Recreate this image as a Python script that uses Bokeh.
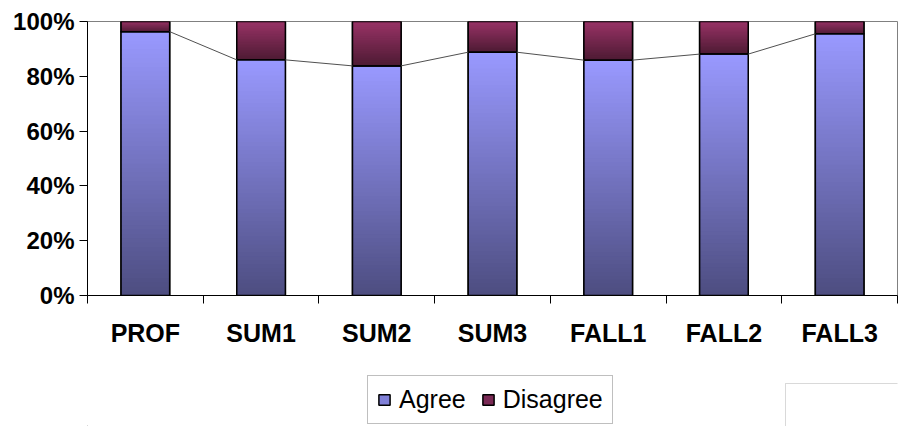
import numpy as np
from bokeh.plotting import figure
from bokeh.layouts import column
from bokeh.models import (ColumnDataSource, FixedTicker, Legend, LegendItem,
                          NumeralTickFormatter, Range1d, BoxAnnotation)
from bokeh.embed import file_html
from bokeh.resources import INLINE

categories = ["PROF", "SUM1", "SUM2", "SUM3", "FALL1", "FALL2", "FALL3"]
agree = [96.3, 86.0, 83.8, 88.8, 85.9, 88.1, 95.5]
disagree = [3.7, 14.0, 16.2, 11.2, 14.1, 11.9, 4.5]
y_ticks = [0, 20, 40, 60, 80, 100]
series_names = ["Agree", "Disagree"]

n = len(categories)
xc = np.arange(n) + 0.5
ag = np.array(agree) / 100.0
dg = np.array(disagree) / 100.0
tot = ag + dg
BW = 0.42
AG_COL = "#8080d8"
DG_COL = "#7a2a55"

p = figure(width=903, height=360, output_backend="svg", toolbar_location=None,
           x_range=Range1d(0, n), y_range=Range1d(0, 1),
           min_border_left=87, min_border_right=6, min_border_top=21,
           min_border_bottom=65)
p.grid.grid_line_color = None
p.outline_line_color = "#808080"
p.outline_line_width = 1
p.background_fill_color = "white"
p.border_fill_color = "white"


def lerp(c1, c2, t):
    a = np.array([int(c1[i:i + 2], 16) for i in (1, 3, 5)], float)
    b = np.array([int(c2[i:i + 2], 16) for i in (1, 3, 5)], float)
    c = a + (b - a) * t
    return "#%02x%02x%02x" % tuple(int(round(v)) for v in c)


src = ColumnDataSource(dict(x=xc, agree=ag, tot=tot, zero=np.zeros(n)))
p.vbar(x="x", width=BW, bottom="zero", top="agree", source=src,
       fill_color=AG_COL, line_color="black", line_width=1.5)
p.vbar(x="x", width=BW, bottom="agree", top="tot", source=src,
       fill_color=DG_COL, line_color="black", line_width=1.5)

# gradient strips (slightly overlapping to avoid seams)
NA, ND = 60, 24
xs, bots, tops, cols = [], [], [], []
for i in range(n):
    for k in range(NA):
        b0 = ag[i] * k / NA
        b1 = ag[i] if k == NA - 1 else ag[i] * (k + 1.6) / NA
        xs.append(xc[i]); bots.append(b0); tops.append(b1)
        cols.append(lerp("#4d4d80", "#9999ff", (k + 0.5) / NA))
    for k in range(ND):
        b0 = ag[i] + dg[i] * k / ND
        b1 = tot[i] if k == ND - 1 else ag[i] + dg[i] * (k + 1.6) / ND
        xs.append(xc[i]); bots.append(b0); tops.append(b1)
        cols.append(lerp("#4d1a33", "#993366", (k + 0.5) / ND))
p.vbar(x=xs, width=BW, bottom=bots, top=tops, fill_color=cols,
       line_color=None)

# outlines on top
p.vbar(x="x", width=BW, bottom="zero", top="agree", source=src,
       fill_color=None, line_color="black", line_width=1.5)
p.vbar(x="x", width=BW, bottom="agree", top="tot", source=src,
       fill_color=None, line_color="black", line_width=1.5)

# series lines
p.segment(x0=xc[:-1] + BW / 2, y0=ag[:-1], x1=xc[1:] - BW / 2, y1=ag[1:],
          line_color="#505050", line_width=1)

# axes
xa = p.xaxis[0]
xa.ticker = FixedTicker(ticks=list(xc), minor_ticks=list(range(n + 1)))
xa.major_label_overrides = {float(x): c for x, c in zip(xc, categories)}
xa.major_tick_out = 0
xa.major_tick_in = 0
xa.minor_tick_out = 8
xa.minor_tick_in = 0
xa.minor_tick_line_color = "black"
xa.axis_line_color = "black"
xa.major_label_standoff = 15
xa.major_label_text_font = "Liberation Sans"
xa.major_label_text_font_style = "bold"
xa.major_label_text_font_size = "25px"
xa.major_label_text_color = "black"

ya = p.yaxis[0]
ya.ticker = FixedTicker(ticks=[t / 100 for t in y_ticks], minor_ticks=[])
ya.formatter = NumeralTickFormatter(format="0%")
ya.major_tick_out = 8
ya.major_tick_in = 0
ya.major_tick_line_color = "black"
ya.axis_line_color = "black"
ya.major_label_standoff = 5
ya.major_label_text_font = "Liberation Sans"
ya.major_label_text_font_style = "bold"
ya.major_label_text_font_size = "24px"
ya.major_label_text_color = "black"

# legend strip below the chart (its frame is aligned with the chart's frame,
# so the x range is set to page pixels)
q = figure(width=903, height=66, output_backend="svg", toolbar_location=None,
           x_range=Range1d(87, 897), y_range=Range1d(0, 66),
           x_axis_location=None, y_axis_location=None, min_border=0)
q.grid.grid_line_color = None
q.outline_line_color = None
q.background_fill_color = "white"
q.border_fill_color = "white"
la = q.vbar(x=[-1000], width=1, bottom=[-500], top=[-400], fill_color=AG_COL,
            line_color="black", line_width=1.5)
ld = q.vbar(x=[-1000], width=1, bottom=[-500], top=[-400], fill_color=DG_COL,
            line_color="black", line_width=1.5)
legend = Legend(items=[LegendItem(label=series_names[0], renderers=[la]),
                       LegendItem(label=series_names[1], renderers=[ld])],
                orientation="horizontal", location=(280, 2),
                glyph_width=14, glyph_height=13, label_standoff=8,
                spacing=15, padding=9, margin=0,
                label_text_font="Liberation Sans", label_text_font_size="25px",
                label_text_color="black", border_line_color="#808080",
                border_line_width=1, background_fill_alpha=1)
q.add_layout(legend, "center")
q.add_layout(BoxAnnotation(left=785, right=910, bottom=-10, top=43,
                           fill_color=None, line_color="#808080",
                           line_width=1))

open("out.html", "w").write(file_html(column(p, q), INLINE))
